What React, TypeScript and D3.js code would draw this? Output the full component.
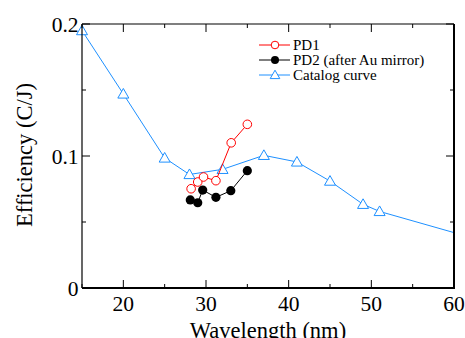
import React from "react";
import * as d3 from "d3";

const catalogX = [15, 20, 25, 28, 32, 37, 41, 45, 49, 51, 62];
const catalogY = [0.195, 0.147, 0.0985, 0.086, 0.0899, 0.1005, 0.0955, 0.081, 0.0634, 0.058, 0.0384];
const pd1X = [28.2, 29.0, 29.7, 31.2, 33.05, 35.0];
const pd1Y = [0.0752, 0.0803, 0.0841, 0.0813, 0.110, 0.124];
const pd2X = [28.1, 29.0, 29.6, 31.2, 33.0, 35.0];
const pd2Y = [0.0667, 0.0646, 0.0742, 0.0687, 0.0737, 0.0889];
const xMajor = [20, 30, 40, 50, 60];
const xMinor = [15, 25, 35, 45, 55];
const yMajor = [0, 0.1, 0.2];
const yMinor = [0.05, 0.15];
const legendLabels = ["PD1", "PD2 (after Au mirror)", "Catalog curve"];

const W = 465, H = 338;
const L = 82, R = 454, T = 24, B = 288;
const RED = "#ff0000", BLUE = "#1e90ff", BLACK = "#000000";
const FONT = "Liberation Serif, Times New Roman, serif";

function tri(cx: number, cy: number, s = 5.5) {
  const h = s * 1.0;
  return `M${cx},${cy - h} L${cx + s},${cy + h * 0.75} L${cx - s},${cy + h * 0.75} Z`;
}

export default function App() {
  const x = d3.scaleLinear().domain([15, 60]).range([L, R]);
  const y = d3.scaleLinear().domain([0, 0.2]).range([B, T]);
  const line = d3.line<[number, number]>().x(d => x(d[0])).y(d => y(d[1]));
  const cat: [number, number][] = catalogX.map((v, i) => [v, catalogY[i]]);
  const p1: [number, number][] = pd1X.map((v, i) => [v, pd1Y[i]]);
  const p2: [number, number][] = pd2X.map((v, i) => [v, pd2Y[i]]);

  const legendY = [45, 60, 75];
  const lx1 = 259, lx2 = 290, lm = 275;
  const ts = { fontFamily: FONT };

  return (
    <svg width={W} height={H} style={{ position: "absolute", left: 0, top: 0, fontFamily: FONT }}>
      <defs>
        <clipPath id="plot">
          <rect x={L} y={T} width={R - L} height={B - T} />
        </clipPath>
      </defs>
      <rect x={0} y={0} width={W} height={H} fill="white" />

      {/* data */}
      <g clipPath="url(#plot)">
        <path d={line(cat) || ""} fill="none" stroke={BLUE} strokeWidth={1} />
      </g>
      {cat.filter(d => d[0] <= 60).map((d, i) => (
        <path key={"c" + i} d={tri(x(d[0]), y(d[1]))} fill="white" stroke={BLUE} strokeWidth={1} />
      ))}
      <path d={line(p2) || ""} fill="none" stroke={BLACK} strokeWidth={1} />
      {p2.map((d, i) => (
        <circle key={"b" + i} cx={x(d[0])} cy={y(d[1])} r={4.6} fill={BLACK} />
      ))}
      <path d={line(p1) || ""} fill="none" stroke={RED} strokeWidth={1} />
      {p1.map((d, i) => (
        <circle key={"r" + i} cx={x(d[0])} cy={y(d[1])} r={4.3} fill="white" stroke={RED} strokeWidth={1} />
      ))}

      {/* frame */}
      <line x1={L} x2={R} y1={T} y2={T} stroke="black" strokeWidth={1.2} />
      <line x1={L} x2={L} y1={T} y2={B} stroke="black" strokeWidth={1.2} />
      <line x1={L} x2={R + 1} y1={B} y2={B} stroke="black" strokeWidth={2} />
      <line x1={R} x2={R} y1={T} y2={B} stroke="black" strokeWidth={2} />

      {/* ticks */}
      {xMajor.map(v => (
        <g key={"xm" + v}>
          <line x1={x(v)} x2={x(v)} y1={B} y2={B - 8} stroke="black" strokeWidth={1} />
          <line x1={x(v)} x2={x(v)} y1={T} y2={T + 8} stroke="black" strokeWidth={1} />
          <text x={x(v)} y={310.5} fontSize={21.5} textAnchor="middle" style={ts}>{v}</text>
        </g>
      ))}
      {xMinor.map(v => (
        <g key={"xn" + v}>
          <line x1={x(v)} x2={x(v)} y1={B} y2={B - 4} stroke="black" strokeWidth={1} />
          <line x1={x(v)} x2={x(v)} y1={T} y2={T + 4} stroke="black" strokeWidth={1} />
        </g>
      ))}
      {yMajor.map(v => (
        <g key={"ym" + v}>
          <line x1={L} x2={L + 8} y1={y(v)} y2={y(v)} stroke="black" strokeWidth={1} />
          <line x1={R} x2={R - 8} y1={y(v)} y2={y(v)} stroke="black" strokeWidth={1} />
          <text x={78.5} y={y(v) + 7.5} fontSize={21.5} textAnchor="end" style={ts}>{v === 0 ? "0" : d3.format(".1f")(v)}</text>
        </g>
      ))}
      {yMinor.map(v => (
        <g key={"yn" + v}>
          <line x1={L} x2={L + 4} y1={y(v)} y2={y(v)} stroke="black" strokeWidth={1} />
          <line x1={R} x2={R - 4} y1={y(v)} y2={y(v)} stroke="black" strokeWidth={1} />
        </g>
      ))}

      {/* axis titles */}
      <text x={268} y={337.5} fontSize={22.5} textAnchor="middle" style={ts}>Wavelength (nm)</text>
      <text transform={`translate(32,155) rotate(-90)`} fontSize={22.5} textAnchor="middle" style={ts}>Efficiency (C/J)</text>

      {/* legend */}
      {legendLabels.map((lab, i) => {
        const ly = legendY[i];
        const col = i === 0 ? RED : i === 1 ? BLACK : BLUE;
        return (
          <g key={"l" + i}>
            <line x1={lx1} x2={lx2} y1={ly} y2={ly} stroke={col} strokeWidth={1} />
            {i === 0 && <circle cx={lm} cy={ly} r={3.8} fill="white" stroke={RED} />}
            {i === 1 && <circle cx={lm} cy={ly} r={4} fill={BLACK} />}
            {i === 2 && <path d={tri(lm, ly, 4.8)} fill="white" stroke={BLUE} />}
            <text x={293} y={ly + 5} fontSize={15} style={ts}>{lab}</text>
          </g>
        );
      })}
    </svg>
  );
}
